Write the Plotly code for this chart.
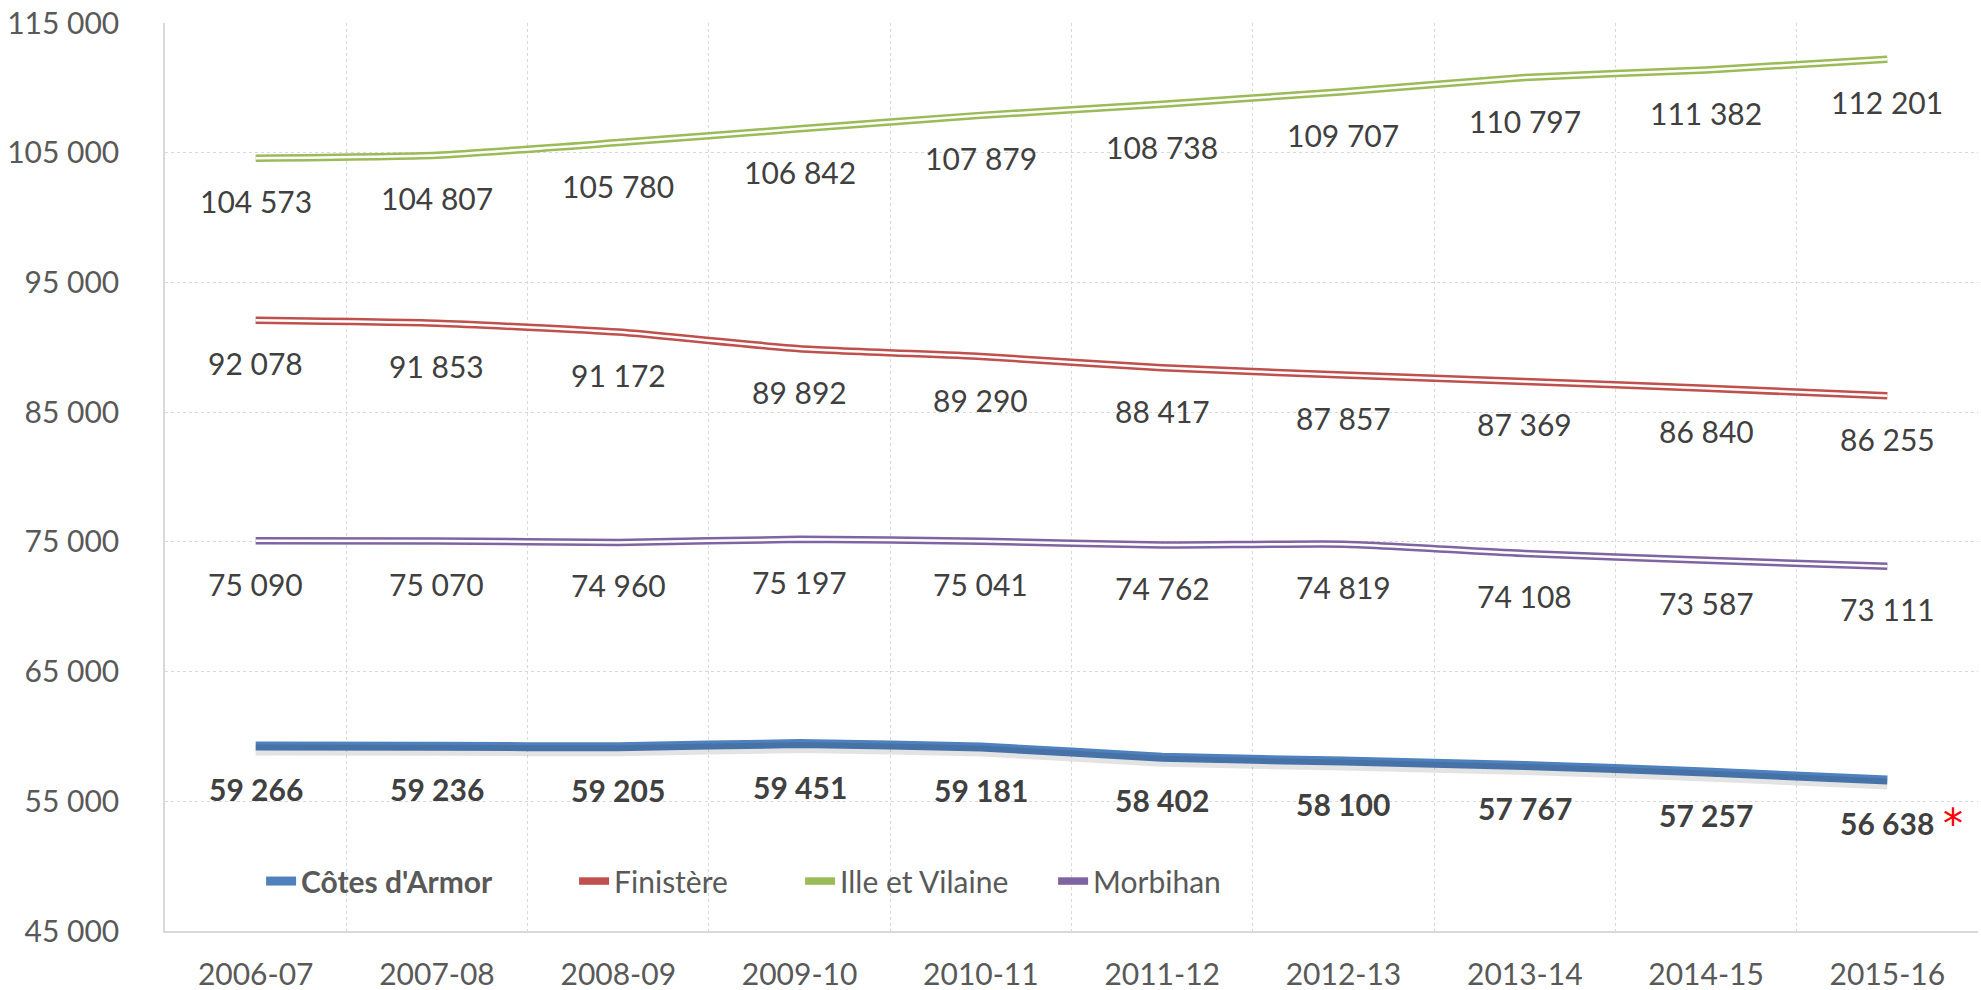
import plotly.graph_objects as go

years = ["2006-07", "2007-08", "2008-09", "2009-10", "2010-11",
         "2011-12", "2012-13", "2013-14", "2014-15", "2015-16"]
cotes = [59266, 59236, 59205, 59451, 59181, 58402, 58100, 57767, 57257, 56638]
finistere = [92078, 91853, 91172, 89892, 89290, 88417, 87857, 87369, 86840, 86255]
ille = [104573, 104807, 105780, 106842, 107879, 108738, 109707, 110797, 111382, 112201]
morbihan = [75090, 75070, 74960, 75197, 75041, 74762, 74819, 74108, 73587, 73111]

YMIN, YMAX, YSTEP = 45000, 115000, 10000
FONT = "Lato"
TXT = "#404040"
AX = "#595959"
GRID = "#D9D9D9"

BLUE = "#4F81BD"
RED = "#C0504D"
GREEN = "#9BBB59"
PURPLE = "#8064A2"

def fmt(v):
    return f"{v:,}".replace(",", " ")

fig = go.Figure()

# soft shadow under the blue line (drawn on an overlaid axis shifted a few px)
fig.add_trace(go.Scatter(x=years, y=cotes, mode="lines", yaxis="y2",
                         line=dict(color="rgba(0,0,0,0.11)", width=11, shape="spline", smoothing=0.5),
                         showlegend=False, hoverinfo="skip"))

double = [("Morbihan", morbihan, PURPLE, 4, 160),
          ("Finistère", finistere, RED, 2, 181),
          ("Ille et Vilaine", ille, GREEN, 3, 208)]
for name, vals, col, rank, lw in double:
    fig.add_trace(go.Scatter(x=years, y=vals, mode="lines", name=name,
                             line=dict(color=col, width=7.5, shape="spline", smoothing=0.5),
                             legendrank=rank, legendwidth=lw))
    fig.add_trace(go.Scatter(x=years, y=vals, mode="lines", showlegend=False,
                             line=dict(color="white", width=2.5, shape="spline", smoothing=0.5),
                             hoverinfo="skip"))

fig.add_trace(go.Scatter(x=years, y=cotes, mode="lines", name="<b>Côtes d'Armor</b>",
                         line=dict(color=BLUE, width=9, shape="spline", smoothing=0.5),
                         legendrank=1, legendwidth=268))

annotations = []
for vals, bold in [(ille, False), (finistere, False), (morbihan, False), (cotes, True)]:
    for x, v in zip(years, vals):
        t = fmt(v)
        if bold:
            t = f"<b>{t}</b>"
        annotations.append(dict(x=x, y=v, xref="x", yref="y", text=t, showarrow=False,
                                yshift=-43, yanchor="middle", xanchor="center",
                                font=dict(family=FONT, size=30, color=TXT)))
# red asterisk after the last Côtes d'Armor value
annotations.append(dict(x=years[-1], y=cotes[-1], xref="x", yref="y", text="*", showarrow=False,
                        xshift=66, yshift=-44, yanchor="middle", xanchor="center",
                        font=dict(family="DejaVu Sans", size=40, color="#FF0000")))

shift = 4 * (YMAX - YMIN) / 908.0
fig.update_layout(
    width=1981, height=990,
    margin=dict(l=165, r=3, t=23, b=59),
    paper_bgcolor="white", plot_bgcolor="white",
    separators=", ",
    font=dict(family=FONT, size=30, color=AX),
    showlegend=True,
    legend=dict(orientation="h", x=0.053, y=0.055, xanchor="left", yanchor="middle",
                bgcolor="rgba(0,0,0,0)", font=dict(family=FONT, size=30, color=AX),
                traceorder="normal"),
    annotations=annotations,
    xaxis=dict(type="category", range=[-0.5, 9.5], tickson="boundaries",
               showgrid=True, gridcolor=GRID, griddash="dot", gridwidth=1,
               showline=True, linecolor=GRID, linewidth=1.5, ticks="",
               ticklabelstandoff=16, automargin=False, ticklabeloverflow="allow",
               tickfont=dict(family=FONT, size=30, color=AX), zeroline=False),
    yaxis=dict(range=[YMIN, YMAX], dtick=YSTEP, tick0=YMIN, tickformat=",d",
               showgrid=True, gridcolor=GRID, griddash="dot", gridwidth=1,
               showline=True, linecolor=GRID, linewidth=1.5, ticks="",
               ticklabelstandoff=38, zeroline=False, automargin=False,
               ticklabeloverflow="allow",
               tickfont=dict(family=FONT, size=30, color=AX)),
    yaxis2=dict(range=[YMIN + shift, YMAX + shift], overlaying="y", visible=False,
                showgrid=False, zeroline=False, automargin=False),
)

# remove the default page margin so the figure fills the window exactly
fig.write_html("out.html",
               config={"displayModeBar": False},
               post_script="document.body.style.margin='0';document.body.style.overflow='hidden';")
